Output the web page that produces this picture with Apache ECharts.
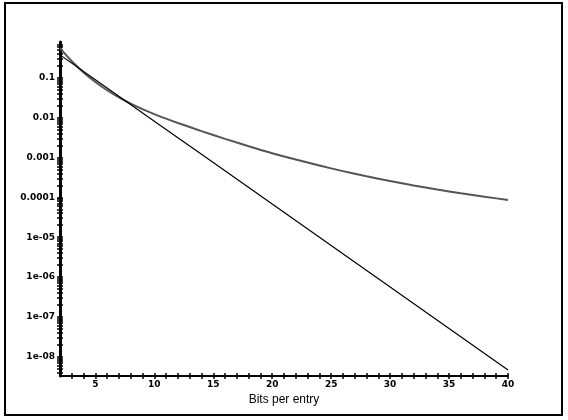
<!DOCTYPE html>
<html>
<head>
<meta charset="utf-8">
<script src="https://cdn.jsdelivr.net/npm/echarts@6/dist/echarts.min.js"></script>
<style>
  html, body { margin: 0; padding: 0; background: #fff; }
  #chart { width: 568px; height: 420px; }
</style>
</head>
<body>
<div id="chart"></div>
<script>
  // grey curve: bits per entry -> false positive rate
  var bitsGrey = [2, 3, 4, 5, 6, 7, 8, 9, 10, 11, 12, 14, 16, 18, 20, 22, 24, 26, 28, 30, 32, 34, 36, 38, 40];
  var rateGrey = [0.562, 0.263, 0.138, 0.0794, 0.049, 0.0324, 0.0226, 0.0164, 0.0123, 0.00948, 0.00741,
    0.00462, 0.00295, 0.00193, 0.00129, 0.000891, 0.000631, 0.000457, 0.000339, 0.000257, 0.0002,
    0.000158, 0.000127, 0.000104, 0.0000861];
  // black line
  var bitsBlack = [2, 5, 10, 15, 20, 25, 30, 35, 40];
  var rateBlack = [0.38, 0.09, 0.0082, 0.00075, 0.000068, 0.0000062, 5.6e-7, 5.1e-8, 4.6e-9];

  var xTickLabels = [5, 10, 15, 20, 25, 30, 35, 40];
  var yTickValues = [1e-8, 1e-7, 1e-6, 1e-5, 1e-4, 0.001, 0.01, 0.1];
  var yTickLabels = ['1e-08', '1e-07', '1e-06', '1e-05', '0.0001', '0.001', '0.01', '0.1'];

  var xMin = 2, xMax = 40, yMin = 3.26e-9, yMax = 0.8;

  // minor ticks: every bit on x, 1..9 x 10^n on y
  var xMinor = [];
  for (var i = xMin + 1; i <= xMax; i++) xMinor.push(i);
  var yMinor = [];
  for (var n = -9; n <= -1; n++) {
    for (var k = 1; k <= 9; k++) {
      var v = k * Math.pow(10, n);
      if (v > yMin && v < yMax) yMinor.push(v);
    }
  }

  var chart = echarts.init(document.getElementById('chart'));
  var rect = { left: 60, top: 42, width: 448, height: 334, outerBoundsMode: 'none' };
  var labelFont = { fontFamily: 'DejaVu Sans', fontSize: 9, fontWeight: 'bold', color: '#000' };

  chart.setOption({
    animation: false,
    backgroundColor: '#fff',
    graphic: [{
      type: 'rect',
      shape: { x: 5, y: 3, width: 557, height: 412 },
      style: { fill: 'none', stroke: '#000', lineWidth: 2 },
      silent: true
    }],
    grid: [rect, rect],
    xAxis: [{
      gridIndex: 0, type: 'value', min: xMin, max: xMax,
      name: 'Bits per entry', nameLocation: 'middle', nameGap: 14,
      nameTextStyle: { fontFamily: 'Liberation Sans', fontSize: 12, color: '#000' },
      splitLine: { show: false },
      axisLine: { lineStyle: { color: '#000', width: 2 } },
      axisTick: { customValues: xMinor, length: 3, lineStyle: { color: '#000', width: 1.5 } },
      axisLabel: Object.assign({ customValues: xTickLabels, margin: 4 }, labelFont)
    }, {
      gridIndex: 1, type: 'value', min: xMin, max: xMax,
      splitLine: { show: false }, axisLine: { show: false }, axisLabel: { show: false },
      axisTick: { inside: true, customValues: xMinor, length: 3, lineStyle: { color: '#000', width: 1.5 } }
    }],
    yAxis: [{
      gridIndex: 0, type: 'log', min: yMin, max: yMax,
      splitLine: { show: false },
      axisLine: { lineStyle: { color: '#000', width: 3 } },
      axisTick: { customValues: yMinor, length: 3, lineStyle: { color: '#000', width: 1.5 } },
      axisLabel: Object.assign({
        customValues: yTickValues, margin: 5,
        formatter: function (val) {
          for (var j = 0; j < yTickValues.length; j++) {
            if (Math.abs(Math.log10(val) - Math.log10(yTickValues[j])) < 1e-6) return yTickLabels[j];
          }
          return '';
        }
      }, labelFont)
    }, {
      gridIndex: 1, type: 'log', min: yMin, max: yMax,
      splitLine: { show: false }, axisLine: { show: false }, axisLabel: { show: false },
      axisTick: { inside: true, customValues: yMinor, length: 3, lineStyle: { color: '#000', width: 1.5 } }
    }],
    series: [{
      type: 'line',
      xAxisIndex: 0, yAxisIndex: 0,
      data: bitsGrey.map(function (b, i) { return [b, rateGrey[i]]; }),
      smooth: 0.3,
      showSymbol: false,
      lineStyle: { color: '#555', width: 2 }
    }, {
      type: 'line',
      xAxisIndex: 0, yAxisIndex: 0,
      data: bitsBlack.map(function (b, i) { return [b, rateBlack[i]]; }),
      showSymbol: false,
      lineStyle: { color: '#000', width: 1.2 }
    }]
  });
</script>
</body>
</html>
